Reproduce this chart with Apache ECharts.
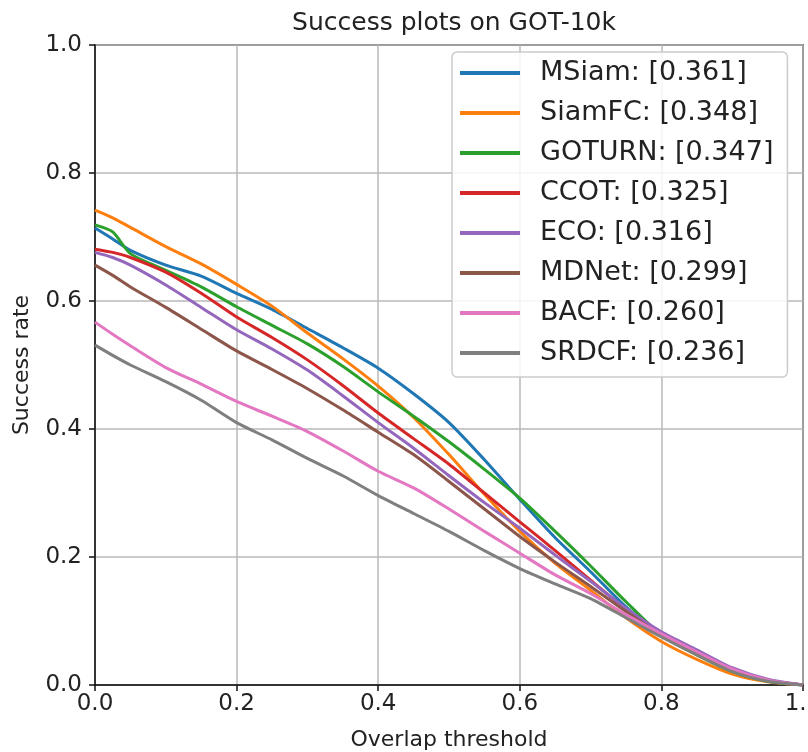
<!DOCTYPE html>
<html>
<head>
<meta charset="utf-8">
<script src="https://cdn.jsdelivr.net/npm/echarts@6/dist/echarts.min.js"></script>
<style>
html,body{margin:0;padding:0;background:#fff;}
#chart{width:808px;height:752px;}
</style>
</head>
<body>
<div id="chart"></div>
<script>
// ---- data ----
const thresholds = [0, 0.025, 0.05, 0.1, 0.15, 0.2, 0.25, 0.3, 0.35, 0.4, 0.45, 0.5, 0.55, 0.6, 0.65, 0.7, 0.75, 0.8, 0.85, 0.9, 0.95, 1.0];
const trackers = ["MSiam", "SiamFC", "GOTURN", "CCOT", "ECO", "MDNet", "BACF", "SRDCF"];
const aucScores = ["0.361", "0.348", "0.347", "0.325", "0.316", "0.299", "0.260", "0.236"];
const MSiam  = [0.714, 0.697, 0.679, 0.656, 0.639, 0.612, 0.587, 0.557, 0.527, 0.495, 0.455, 0.410, 0.352, 0.290, 0.230, 0.177, 0.122, 0.077, 0.048, 0.022, 0.007, 0.000];
const SiamFC = [0.742, 0.730, 0.715, 0.685, 0.658, 0.626, 0.592, 0.550, 0.510, 0.467, 0.418, 0.360, 0.298, 0.240, 0.190, 0.148, 0.105, 0.068, 0.040, 0.017, 0.005, 0.000];
const GOTURN = [0.719, 0.708, 0.674, 0.648, 0.622, 0.591, 0.562, 0.533, 0.498, 0.458, 0.420, 0.380, 0.337, 0.292, 0.240, 0.186, 0.130, 0.078, 0.047, 0.021, 0.006, 0.000];
const CCOT   = [0.681, 0.676, 0.668, 0.645, 0.612, 0.575, 0.543, 0.508, 0.468, 0.425, 0.385, 0.345, 0.300, 0.255, 0.210, 0.164, 0.118, 0.077, 0.048, 0.022, 0.007, 0.000];
const ECO    = [0.676, 0.668, 0.656, 0.625, 0.590, 0.555, 0.525, 0.492, 0.452, 0.410, 0.370, 0.327, 0.285, 0.245, 0.203, 0.162, 0.120, 0.083, 0.055, 0.027, 0.009, 0.000];
const MDNet  = [0.656, 0.640, 0.622, 0.590, 0.556, 0.522, 0.493, 0.463, 0.430, 0.395, 0.360, 0.318, 0.275, 0.232, 0.192, 0.154, 0.115, 0.078, 0.050, 0.023, 0.007, 0.000];
const BACF   = [0.567, 0.548, 0.530, 0.496, 0.470, 0.443, 0.420, 0.396, 0.366, 0.334, 0.308, 0.275, 0.240, 0.206, 0.172, 0.143, 0.110, 0.080, 0.052, 0.025, 0.008, 0.000];
const SRDCF  = [0.531, 0.515, 0.500, 0.474, 0.445, 0.410, 0.383, 0.354, 0.327, 0.296, 0.268, 0.240, 0.210, 0.182, 0.158, 0.135, 0.105, 0.075, 0.047, 0.021, 0.006, 0.000];
const xTicks = [0, 0.2, 0.4, 0.6, 0.8, 1.0];
const yTicks = [0, 0.2, 0.4, 0.6, 0.8, 1.0];

const seriesValues = [MSiam, SiamFC, GOTURN, CCOT, ECO, MDNet, BACF, SRDCF];
const colors = ["#1f77b4", "#ff7f0e", "#2ca02c", "#d62728", "#9467bd", "#8c564b", "#e377c2", "#7f7f7f"];
const FONT = "DejaVu Sans";

const chart = echarts.init(document.getElementById('chart'), null, {renderer: 'canvas'});
const aucMap = {};
trackers.forEach((t, i) => aucMap[t] = aucScores[i]);

const option = {
  animation: false,
  backgroundColor: '#ffffff',
  color: colors,
  textStyle: {fontFamily: FONT},
  title: {
    text: 'Success plots on GOT-10k',
    left: 449,
    textAlign: 'center',
    top: 6,
    textStyle: {fontFamily: FONT, fontSize: 25, fontWeight: 'normal', color: '#222'}
  },
  grid: {
    left: 95, right: 5, top: 45, bottom: 67,
    outerBoundsMode: 'none',
    containLabel: false,
    show: true, borderColor: '#111', borderWidth: 1.5, backgroundColor: 'transparent'
  },
  legend: {
    orient: 'vertical',
    left: 452, top: 52,
    data: trackers,
    icon: 'rect',
    itemWidth: 60, itemHeight: 4,
    itemGap: 10,
    padding: [6, 14, 9, 8],
    backgroundColor: 'rgba(255,255,255,0.85)',
    borderColor: '#cccccc', borderWidth: 1.5, borderRadius: 5,
    formatter: name => name + ': [' + aucMap[name] + ']',
    textStyle: {fontFamily: FONT, fontSize: 27, color: '#222', lineHeight: 30, padding: [0, 0, 0, 15]}
  },
  xAxis: {
    type: 'value', min: 0, max: 1, interval: 0.2,
    name: 'Overlap threshold', nameLocation: 'middle', nameGap: 44,
    nameTextStyle: {fontFamily: FONT, fontSize: 22, color: '#222'},
    axisLine: {show: true, lineStyle: {color: '#111', width: 1.5}},
    axisTick: {show: true, inside: false, length: 6, lineStyle: {color: '#111', width: 1.5}},
    axisLabel: {fontFamily: FONT, fontSize: 23, color: '#222', margin: 8,
      formatter: v => xTicks.some(t => Math.abs(t - v) < 1e-9) ? v.toFixed(1) : ''},
    splitLine: {show: true, lineStyle: {color: '#b8b8b8', width: 1.5}}
  },
  yAxis: {
    type: 'value', min: 0, max: 1, interval: 0.2,
    name: 'Success rate', nameLocation: 'middle', nameGap: 62,
    nameTextStyle: {fontFamily: FONT, fontSize: 22, color: '#222'},
    axisLine: {show: true, lineStyle: {color: '#111', width: 1.5}},
    axisTick: {show: true, inside: false, length: 6, lineStyle: {color: '#111', width: 1.5}},
    axisLabel: {fontFamily: FONT, fontSize: 23, color: '#222', margin: 13,
      formatter: v => yTicks.some(t => Math.abs(t - v) < 1e-9) ? v.toFixed(1) : ''},
    splitLine: {show: true, lineStyle: {color: '#b8b8b8', width: 1.5}}
  },
  series: trackers.map((name, i) => ({
    name: name,
    type: 'line',
    showSymbol: false,
    smooth: 0.25,
    clip: true,
    lineStyle: {width: 3, color: colors[i]},
    itemStyle: {color: colors[i]},
    data: thresholds.map((t, j) => [t, seriesValues[i][j]])
  }))
};
chart.setOption(option);
</script>
</body>
</html>
